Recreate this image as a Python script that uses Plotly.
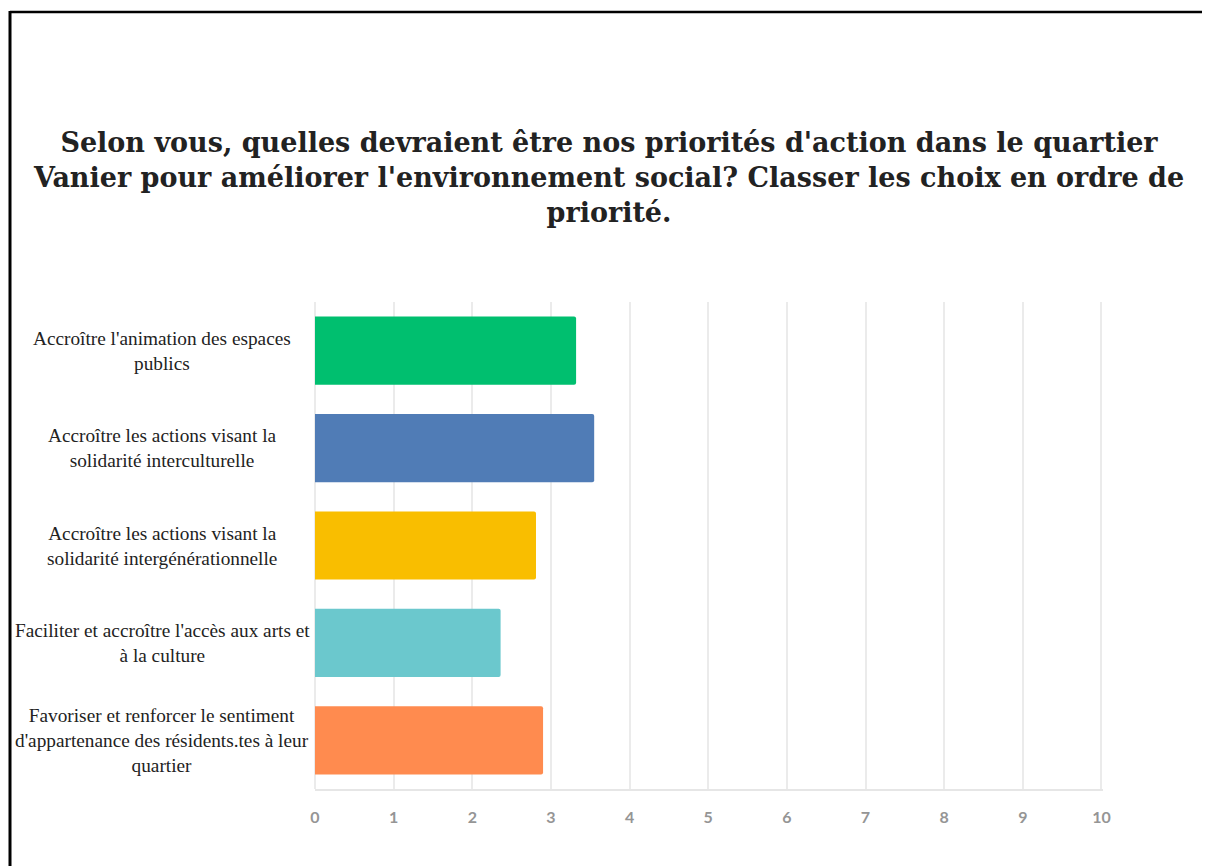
import plotly.graph_objects as go

title_text = ("Selon vous, quelles devraient être nos priorités d'action dans le quartier<br>"
              "Vanier pour améliorer l'environnement social? Classer les choix en ordre de<br>"
              "priorité.")

categories = [
    "Accroître l'animation des espaces publics",
    "Accroître les actions visant la solidarité interculturelle",
    "Accroître les actions visant la solidarité intergénérationnelle",
    "Faciliter et accroître l'accès aux arts et à la culture",
    "Favoriser et renforcer le sentiment d'appartenance des résidents.tes à leur quartier",
]
category_labels = [
    "Accroître l'animation des espaces<br>publics",
    "Accroître les actions visant la<br>solidarité interculturelle",
    "Accroître les actions visant la<br>solidarité intergénérationnelle",
    "Faciliter et accroître l'accès aux arts et<br>à la culture",
    "Favoriser et renforcer le sentiment<br>d'appartenance des résidents.tes à leur<br>quartier",
]
values = [3.32, 3.55, 2.81, 2.36, 2.90]
colors = ["#00BF6F", "#507CB6", "#F9BE00", "#6BC8CD", "#FF8B4F"]
x_ticks = [0, 1, 2, 3, 4, 5, 6, 7, 8, 9, 10]

OFF = 8  # page body margin
W, H = 1210 - OFF, 866 - OFF
L, R, T, B = 315 - OFF, 1103 - OFF, 302 - OFF, 789 - OFF

def px(X):
    return (X - OFF - L) / (R - L)

def py(Y):
    return (B - (Y - OFF)) / (B - T)

fig = go.Figure()
fig.add_trace(go.Bar(
    x=values, y=categories, orientation="h",
    marker=dict(color=colors, line=dict(width=0), cornerradius=2),
    hoverinfo="x+y", showlegend=False,
))

for cat, lab in zip(categories, category_labels):
    fig.add_annotation(
        x=px(162), xref="paper", y=cat, yref="y",
        text=lab, showarrow=False, xanchor="center", yanchor="middle",
        align="center",
        font=dict(family="Liberation Serif", size=19.3, color="#222222"),
    )

fig.update_layout(
    width=W, height=H, autosize=False,
    margin=dict(l=L, r=W - R, t=T, b=H - B),
    paper_bgcolor="white", plot_bgcolor="white",
    bargap=0.3,
    title=dict(
        text=title_text, x=0.5, xref="container", xanchor="center",
        y=1 - 144 / H, yref="container", yanchor="middle",
        font=dict(family="DejaVu Serif", size=27, color="#222222", weight="bold"),
    ),
    xaxis=dict(
        range=[0, 10.02], tickvals=x_ticks, ticktext=[str(t) for t in x_ticks],
        showgrid=True, gridcolor="#EBEBEB", gridwidth=1.5,
        zeroline=True, zerolinecolor="#EBEBEB", zerolinewidth=1.5,
        showline=True, linecolor="#E6E6E6", linewidth=2,
        ticks="", ticklabelstandoff=13,
        tickfont=dict(family="Lato", size=16, color="#959595", weight="bold"),
        fixedrange=True,
    ),
    yaxis=dict(
        categoryorder="array", categoryarray=categories, autorange="reversed",
        showticklabels=False, showgrid=False, zeroline=False, ticks="",
        fixedrange=True,
    ),
    shapes=[
        dict(type="line", xref="paper", yref="paper",
             x0=px(10), x1=px(1215), y0=py(12), y1=py(12),
             line=dict(color="#000000", width=2.5)),
        dict(type="line", xref="paper", yref="paper",
             x0=px(10), x1=px(10), y0=py(11), y1=py(870),
             line=dict(color="#000000", width=3)),
    ],
)

fig.write_html("out.html")
